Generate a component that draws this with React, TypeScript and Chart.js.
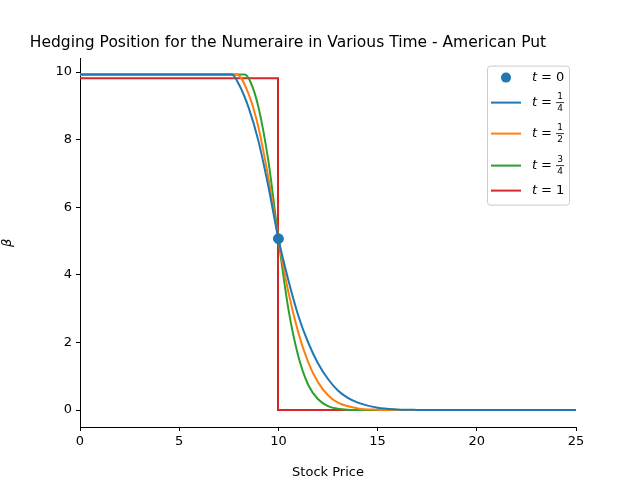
import React, { useEffect, useRef } from 'react';
import Chart from 'chart.js/auto';

const t0Point = [{ x: 10, y: 5.07 }];
const blueX = [0, 7.66, 8, 8.5, 9, 9.5, 10, 10.5, 11, 11.5, 12, 12.5, 13, 13.5, 14, 15, 16, 17, 18, 25];
const blueY = [9.93, 9.93, 9.65, 8.95, 7.95, 6.6, 5.07, 3.85, 2.8, 2.0, 1.38, 0.92, 0.58, 0.36, 0.22, 0.07, 0.02, 0.005, 0, 0];
const orangeX = [0, 7.9, 8.5, 9, 9.5, 10, 10.5, 11, 11.5, 12, 12.5, 13, 14, 15, 16, 25];
const orangeY = [9.93, 9.93, 9.35, 8.35, 6.85, 5.07, 3.5, 2.3, 1.42, 0.82, 0.44, 0.22, 0.05, 0.01, 0, 0];
const greenX = [0, 8.3, 8.6, 9, 9.5, 10, 10.5, 11, 11.5, 12, 12.5, 13, 14, 25];
const greenY = [9.93, 9.93, 9.7, 8.95, 7.35, 5.07, 3.0, 1.6, 0.75, 0.32, 0.12, 0.04, 0, 0];
const redX = [0, 9.98, 9.98, 25];
const redY = [9.82, 9.82, 0, 0];
const legendNum = ['', '1', '1', '3', ''];
const legendDen = ['', '4', '2', '4', ''];
const legendPlain = ['t = 0', '', '', '', 't = 1'];

const pts = (xs: number[], ys: number[]) => xs.map((x, i) => ({ x, y: ys[i] }));
const FONT = '"DejaVu Sans", sans-serif';

const legendPlugin = {
  id: 'innerLegend',
  afterDraw(chart: any) {
    const ctx = chart.ctx;
    const { right, top } = chart.chartArea;
    const bx = right - 89, by = top + 7, bw = 82, bh = 139;
    ctx.save();
    ctx.fillStyle = 'rgba(255,255,255,0.8)';
    ctx.strokeStyle = '#cccccc';
    ctx.lineWidth = 1;
    ctx.beginPath();
    ctx.roundRect(bx + 0.5, by + 0.5, bw, bh, 3);
    ctx.fill();
    ctx.stroke();
    const rows = [12, 37, 68, 100, 125];
    chart.data.datasets.forEach((ds: any, i: number) => {
      const y = by + rows[i];
      ctx.strokeStyle = ds.borderColor;
      ctx.fillStyle = ds.borderColor;
      if (i === 0) {
        ctx.beginPath();
        ctx.arc(bx + 19, y, 5, 0, Math.PI * 2);
        ctx.fill();
      } else {
        ctx.lineWidth = 2;
        ctx.beginPath();
        ctx.moveTo(bx + 4, y);
        ctx.lineTo(bx + 34, y);
        ctx.stroke();
      }
      ctx.fillStyle = '#000';
      ctx.textBaseline = 'middle';
      ctx.textAlign = 'left';
      const tx = bx + 45;
      if (legendPlain[i]) {
        ctx.font = `italic 13px ${FONT}`;
        ctx.fillText('t', tx, y);
        ctx.font = `13px ${FONT}`;
        ctx.fillText('= ' + legendPlain[i].split('= ')[1], tx + 9, y);
      } else {
        ctx.font = `italic 13px ${FONT}`;
        ctx.fillText('t', tx, y);
        ctx.font = `13px ${FONT}`;
        ctx.fillText('=', tx + 9, y);
        ctx.font = `9px ${FONT}`;
        ctx.textAlign = 'center';
        ctx.fillText(legendNum[i], tx + 28, y - 6);
        ctx.fillText(legendDen[i], tx + 28, y + 6);
        ctx.lineWidth = 0.8;
        ctx.strokeStyle = '#000';
        ctx.beginPath();
        ctx.moveTo(tx + 24, y);
        ctx.lineTo(tx + 32, y);
        ctx.stroke();
      }
    });
    ctx.restore();
  },
};

const App = () => {
  const ref = useRef<HTMLCanvasElement>(null);
  useEffect(() => {
    document.body.style.margin = '0';
    if (!ref.current) return;
    const line = (label: string, color: string, data: any) => ({
      label, data, borderColor: color, backgroundColor: color, borderWidth: 2,
      pointRadius: 0, cubicInterpolationMode: 'monotone' as const,
    });
    const tickGrid = { display: true, drawOnChartArea: false, drawTicks: true, tickLength: 4, tickColor: '#000' };
    const chart = new Chart(ref.current, {
      type: 'line',
      data: {
        datasets: [
          { label: 't = 0', data: t0Point, borderColor: '#1f77b4', backgroundColor: '#1f77b4', showLine: false, pointRadius: 5, order: -1 } as any,
          line('t = 1/4', '#1f77b4', pts(blueX, blueY)),
          line('t = 1/2', '#ff7f0e', pts(orangeX, orangeY)),
          line('t = 3/4', '#2ca02c', pts(greenX, greenY)),
          { ...line('t = 1', '#d62728', pts(redX, redY)), cubicInterpolationMode: 'default', tension: 0 },
        ],
      },
      options: {
        animation: false,
        responsive: false,
        layout: { padding: { top: 0, right: 64, left: 0, bottom: 0 } },
        plugins: {
          legend: { display: false },
          tooltip: { enabled: false },
          title: {
            display: true,
            text: 'Hedging Position for the Numeraire in Various Time - American Put',
            color: '#000',
            font: { family: FONT, size: 15.5, weight: 'normal' },
            padding: { top: 34, bottom: 6 },
          },
        },
        scales: {
          x: {
            type: 'linear', min: 0, max: 25,
            grid: tickGrid as any,
            border: { color: '#000' },
            ticks: { stepSize: 5, color: '#000', padding: 3, font: { family: FONT, size: 13 } },
            title: { display: true, text: 'Stock Price', color: '#000', font: { family: FONT, size: 13 }, padding: { top: 2, bottom: 0 } },
            afterFit: (s: any) => { s.height = 53; },
          },
          y: {
            min: -0.5, max: 10.4,
            grid: tickGrid as any,
            border: { color: '#000' },
            ticks: { color: '#000', padding: 4, font: { family: FONT, size: 13 } },
            afterBuildTicks: (s: any) => { s.ticks = [0, 2, 4, 6, 8, 10].map((v) => ({ value: v })); },
            title: { display: true, text: 'β', color: '#000', font: { family: FONT, size: 13, style: 'italic' }, padding: { top: 0, bottom: 0 } },
            afterFit: (s: any) => { s.width = 80; },
          },
        },
      },
      plugins: [legendPlugin],
    });
    return () => chart.destroy();
  }, []);
  return <canvas ref={ref} width={640} height={480} />;
};

export default App;
